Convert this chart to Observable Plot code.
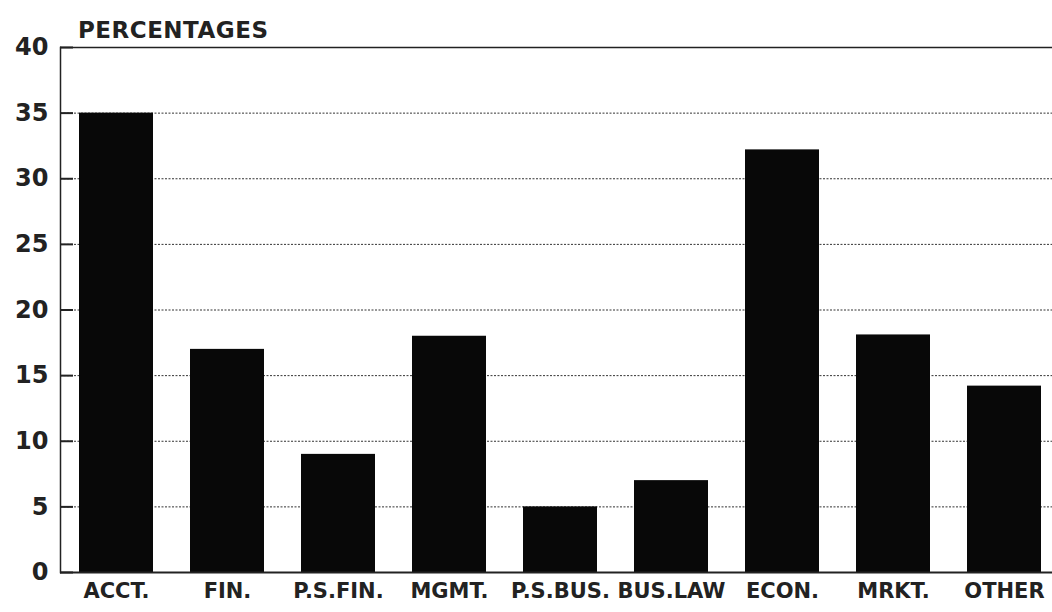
<!DOCTYPE html>
<html>
<head>
<meta charset="utf-8">
<script src="https://cdn.jsdelivr.net/npm/d3@7"></script>
<script src="https://cdn.jsdelivr.net/npm/@observablehq/plot@0.6"></script>
<style>
  html, body { margin: 0; padding: 0; background: #fff; }
  #wrap { position: relative; width: 1052px; height: 612px; overflow: hidden; }
  #title { position: absolute; left: 78px; top: 17px; font: bold 23px "DejaVu Sans", sans-serif; color: #222; letter-spacing: 0.5px; }
</style>
</head>
<body>
<div id="wrap"><div id="title">PERCENTAGES</div></div>
<script>
const categories = ["ACCT.", "FIN.", "P.S.FIN.", "MGMT.", "P.S.BUS.", "BUS.LAW", "ECON.", "MRKT.", "OTHER"];
const values = [35, 17, 9, 18, 5, 7, 32.2, 18.1, 14.2];
const yTicks = [0, 5, 10, 15, 20, 25, 30, 35, 40];
const gridTicks = [5, 10, 15, 20, 25, 30, 35];

const data = categories.map((c, i) => ({category: c, value: values[i]}));
const font = "'DejaVu Sans', sans-serif";

const chart = Plot.plot({
  width: 1052,
  height: 612,
  marginTop: 47,
  marginBottom: 40,
  marginLeft: 60,
  marginRight: 0,
  style: {fontFamily: font, fontWeight: "bold", color: "#222", background: "#fff"},
  x: {domain: categories, range: [60, 1060], paddingInner: 0.33, paddingOuter: 0.165, label: null},
  y: {domain: [0, 40], label: null},
  marks: [
    Plot.ruleY(gridTicks, {stroke: "#333", strokeWidth: 1, strokeDasharray: "2,1.5"}),
    Plot.ruleY(yTicks, {stroke: "#222", strokeWidth: 2, insetRight: 979}),
    Plot.ruleY([40], {stroke: "#222", strokeWidth: 1.5}),
    Plot.barY(data, {x: "category", y: "value", fill: "#080808"}),
    Plot.ruleY([0], {stroke: "#222", strokeWidth: 2}),
    Plot.frame({anchor: "left", stroke: "#222", strokeWidth: 1.5}),
    Plot.axisY(yTicks, {anchor: "left", tickSize: 0, tickPadding: 12, fontSize: 24, fontWeight: "bold", fill: "#222", label: null}),
    Plot.axisX({tickSize: 0, tickPadding: 11, fontSize: 21, fontWeight: "bold", fill: "#222", label: null})
  ]
});
document.getElementById("wrap").prepend(chart);
</script>
</body>
</html>
